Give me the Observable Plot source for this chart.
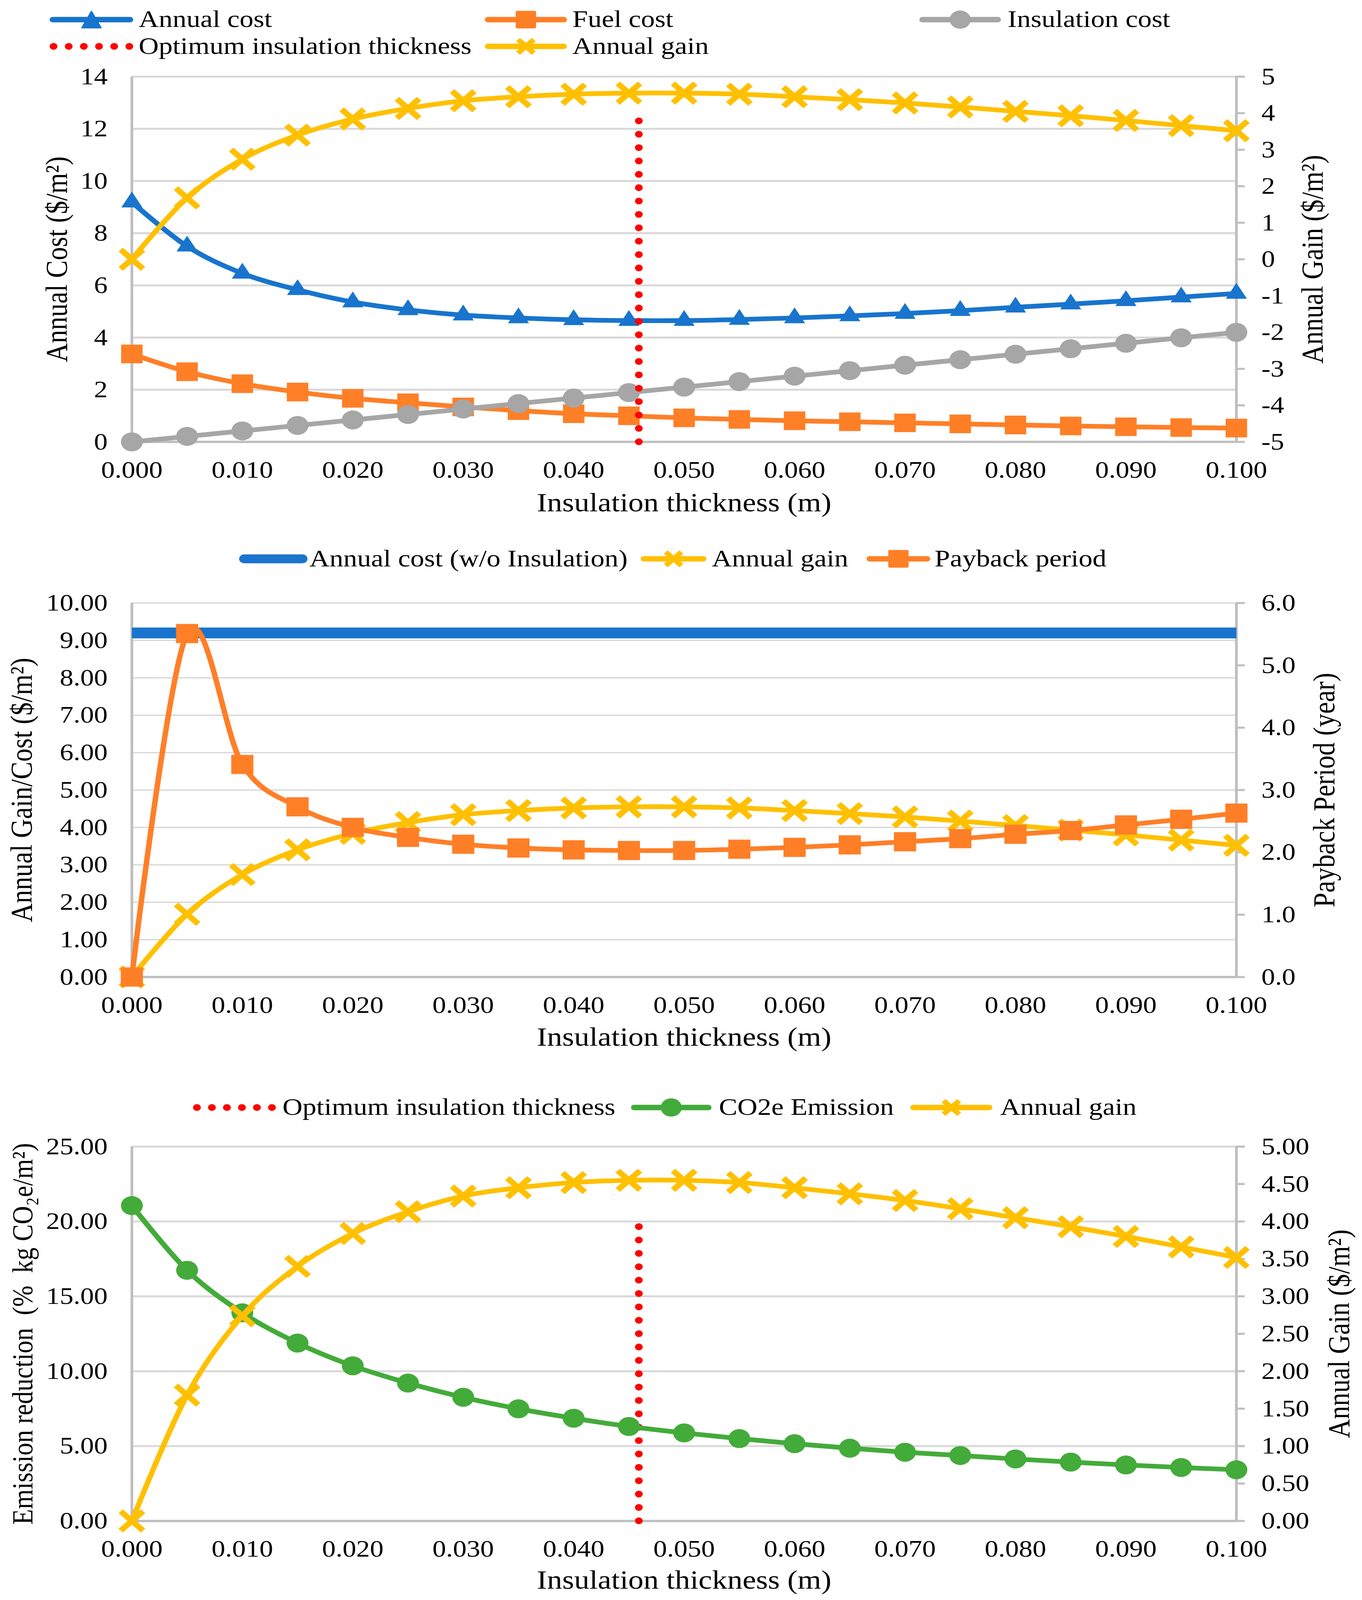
<!DOCTYPE html>
<html><head><meta charset="utf-8">
<script src="https://cdn.jsdelivr.net/npm/d3@7"></script>
<script src="https://cdn.jsdelivr.net/npm/@observablehq/plot@0.6"></script>
<style>
html,body{margin:0;padding:0;background:#fff;overflow:hidden;}
#wrap{position:relative;overflow:hidden;background:#fff;}
#page{position:absolute;left:0;top:0;width:3486px;height:4727px;background:#fff;font-family:'Liberation Serif','Times New Roman',serif;overflow:hidden;transform-origin:0 0;}
.panel{position:absolute;left:0;}
.lg{position:absolute;white-space:nowrap;font-size:71px;line-height:100px;height:100px;color:#000;}
.sw{position:absolute;overflow:visible;}
</style></head><body><div id="wrap"><div id="page"></div></div>
<script>
// ---------- data ----------
const thickness = [0.000, 0.005, 0.010, 0.015, 0.020, 0.025, 0.030, 0.035, 0.040, 0.045, 0.050, 0.055, 0.060, 0.065, 0.070, 0.075, 0.080, 0.085, 0.090, 0.095, 0.100];
const annualCost = [9.19, 7.50, 6.46, 5.83, 5.36, 5.06, 4.86, 4.75, 4.68, 4.65, 4.65, 4.69, 4.75, 4.83, 4.92, 5.03, 5.16, 5.28, 5.41, 5.55, 5.69];
const fuelCost = [3.37, 2.69, 2.23, 1.91, 1.67, 1.50, 1.34, 1.20, 1.08, 1.00, 0.92, 0.86, 0.81, 0.77, 0.73, 0.69, 0.65, 0.61, 0.58, 0.55, 0.53];
const insulationCost = [0.00, 0.21, 0.42, 0.63, 0.84, 1.05, 1.26, 1.47, 1.68, 1.89, 2.10, 2.31, 2.52, 2.73, 2.94, 3.15, 3.36, 3.57, 3.78, 3.99, 4.20];
const annualGain = [0.00, 1.68, 2.74, 3.40, 3.84, 4.13, 4.34, 4.45, 4.52, 4.55, 4.55, 4.52, 4.45, 4.37, 4.28, 4.17, 4.05, 3.93, 3.80, 3.66, 3.52];
const costNoInsulation = [9.2, 9.2, 9.2, 9.2, 9.2, 9.2, 9.2, 9.2, 9.2, 9.2, 9.2, 9.2, 9.2, 9.2, 9.2, 9.2, 9.2, 9.2, 9.2, 9.2, 9.2];
const paybackPeriod = [0.00, 5.51, 3.41, 2.73, 2.40, 2.24, 2.13, 2.07, 2.04, 2.03, 2.03, 2.05, 2.08, 2.12, 2.17, 2.22, 2.29, 2.35, 2.44, 2.53, 2.63];
const co2Reduction = [21.06, 16.74, 13.90, 11.88, 10.36, 9.21, 8.26, 7.49, 6.86, 6.31, 5.88, 5.50, 5.16, 4.86, 4.59, 4.37, 4.14, 3.93, 3.74, 3.57, 3.42];
const optimumThickness = [0.0459];
const optimumTopCost = 12.8;      // left-axis value where the dotted line ends (panel 1)
const optimumTopEmission = 20.5;  // left-axis value where the dotted line ends (panel 3)

// ---------- ticks ----------
const xTicks = [0.00, 0.01, 0.02, 0.03, 0.04, 0.05, 0.06, 0.07, 0.08, 0.09, 0.10];
const costTicks = [0, 2, 4, 6, 8, 10, 12, 14];
const gainTicksA = [-5, -4, -3, -2, -1, 0, 1, 2, 3, 4, 5];
const gainCostTicks = [0, 1, 2, 3, 4, 5, 6, 7, 8, 9, 10];
const paybackTicks = [0, 1, 2, 3, 4, 5, 6];
const emissionTicks = [0, 5, 10, 15, 20, 25];
const gainTicksC = [0, 0.5, 1, 1.5, 2, 2.5, 3, 3.5, 4, 4.5, 5];

// ---------- style ----------
const BLUE = "#1874CD", ORANGE = "#FF7F27", GREY = "#A6A6A6", YELLOW = "#FFC000", GREEN = "#43AB3A", RED = "#FF0000";
const FONT = "'Liberation Serif','Times New Roman',serif";
const TICK_FS = 70, TITLE_FS = 78;
const rows = thickness.map((t, i) => ({
  t, cost: annualCost[i], fuel: fuelCost[i], ins: insulationCost[i], gain: annualGain[i],
  base: costNoInsulation[i], pay: paybackPeriod[i], co2: co2Reduction[i]
}));
const page = document.getElementById("page");

// fit the 3486x4727 design into the actual viewport
(function fit() {
  const W = 3486, H = 4727;
  const vw = window.innerWidth || W, vh = window.innerHeight || H;
  const sx = Math.min(1, vw / W), sy = Math.min(1, vh / H);
  const wrap = document.getElementById("wrap");
  wrap.style.width = (W * sx) + "px";
  wrap.style.height = (H * sy) + "px";
  page.style.transform = `scale(${sx}, ${sy})`;
})();

function makePanel(cfg) {
  const [y0, y1] = cfg.yDomain, [r0, r1] = cfg.rDomain;
  const toL = r => y0 + (r - r0) * (y1 - y0) / (r1 - r0);
  const tickLen = 0.1 * 22 / 2827; // 22px outward tick on the right axis, in x units
  const svg = Plot.plot({
    width: 3486, height: cfg.height,
    marginLeft: 337, marginRight: 322, marginTop: cfg.mt, marginBottom: cfg.mb,
    style: {fontFamily: FONT, fontSize: TICK_FS + "px", background: "transparent", color: "#000", overflow: "visible"},
    x: {domain: [0, 0.1], axis: null},
    y: {domain: cfg.yDomain, axis: null},
    marks: [
      Plot.gridY(cfg.yTicks, {stroke: "#d9d9d9", strokeOpacity: 1, strokeWidth: cfg.gridW}),
      Plot.ruleX([0, 0.1], {stroke: "#bfbfbf", strokeWidth: 7}),
      Plot.ruleY([y0], {stroke: "#bfbfbf", strokeWidth: 7}),
      Plot.axisX(xTicks, {tickSize: 0, tickPadding: 56, fontSize: TICK_FS, tickFormat: d3.format(".3f"), label: null}),
      Plot.axisY(cfg.yTicks, {tickSize: 0, tickPadding: 62, fontSize: TICK_FS, tickFormat: cfg.yFmt, label: null}),
      // right (secondary) axis: tick marks and labels
      Plot.ruleY(cfg.rTicks, {y: toL, x1: 0.1, x2: 0.1 + tickLen, stroke: "#bfbfbf", strokeWidth: 6}),
      Plot.text(cfg.rTicks, {x: () => 0.1, y: toL, text: cfg.rFmt, dx: 64, textAnchor: "start", fontSize: TICK_FS, fill: "#000"}),
      Plot.text([cfg.xTitle], {frameAnchor: "bottom", dy: cfg.xTitleDy, fontSize: TITLE_FS, text: d => d, fill: "#000"}),
      Plot.text([cfg.yTitle], {frameAnchor: "left", textAnchor: "middle", dx: -(337 - cfg.yTitleX), rotate: -90, fontSize: cfg.yTitleFs || TITLE_FS, text: d => d, fill: "#000"}),
      Plot.text([cfg.rTitle], {frameAnchor: "right", textAnchor: "middle", dx: cfg.rTitleX - 3164, rotate: -90, fontSize: TITLE_FS, text: d => d, fill: "#000"}),
      ...cfg.marks(toL)
    ]
  });
  svg.classList.add("panel");
  svg.style.top = cfg.top + "px";
  svg.style.position = "absolute";
  page.appendChild(svg);
}

const lineOpts = {x: "t", strokeWidth: 14, curve: "cardinal", tension: 0};

// Panel 1
makePanel({
  top: 170, height: 1390, mt: 56, mb: 255, gridW: 6,
  yDomain: [0, 14], yTicks: costTicks, yFmt: d => String(d),
  rDomain: [-5, 5], rTicks: gainTicksA, rFmt: v => String(v),
  xTitle: "Insulation thickness (m)", xTitleDy: 205,
  yTitle: "Annual Cost ($/m²)", yTitleX: 146,
  rTitle: "Annual Gain ($/m²)", rTitleX: 3360,
  marks: toL => [
    Plot.line(rows, {...lineOpts, y: "cost", stroke: BLUE}),
    Plot.dot(rows, {x: "t", y: "cost", symbol: "triangle", r: 20, fill: BLUE}),
    Plot.line(rows, {...lineOpts, y: "fuel", stroke: ORANGE}),
    Plot.dot(rows, {x: "t", y: "fuel", symbol: "square", r: 31, fill: ORANGE}),
    Plot.line(rows, {...lineOpts, y: "ins", stroke: GREY}),
    Plot.dot(rows, {x: "t", y: "ins", symbol: "circle", r: 28, fill: GREY}),
    Plot.ruleX(optimumThickness, {x: d => d, y1: 0, y2: optimumTopCost, stroke: RED, strokeWidth: 20, strokeDasharray: "0 39.5", strokeLinecap: "round"}),
    Plot.line(rows, {...lineOpts, y: d => toL(d.gain), stroke: YELLOW}),
    Plot.dot(rows, {x: "t", y: d => toL(d.gain), symbol: "times", r: 26, stroke: YELLOW, strokeWidth: 16, fill: "none"})
  ]
});

// Panel 2
makePanel({
  top: 1720, height: 1420, mt: 61, mb: 254, gridW: 4,
  yDomain: [0, 10], yTicks: gainCostTicks, yFmt: d3.format(".2f"),
  rDomain: [0, 6], rTicks: paybackTicks, rFmt: v => v.toFixed(1),
  xTitle: "Insulation thickness (m)", xTitleDy: 203,
  yTitle: "Annual Gain/Cost ($/m²)", yTitleX: 56, yTitleFs: 78,
  rTitle: "Payback Period (year)", rTitleX: 3390,
  marks: toL => [
    Plot.line(rows, {x: "t", y: "base", stroke: BLUE, strokeWidth: 32, strokeLinecap: "butt"}),
    Plot.line(rows, {...lineOpts, y: "gain", stroke: YELLOW}),
    Plot.dot(rows, {x: "t", y: "gain", symbol: "times", r: 26, stroke: YELLOW, strokeWidth: 16, fill: "none"}),
    Plot.line(rows, {...lineOpts, y: d => toL(d.pay), stroke: ORANGE}),
    Plot.dot(rows, {x: "t", y: d => toL(d.pay), symbol: "square", r: 32, fill: ORANGE})
  ]
});

// Panel 3
makePanel({
  top: 3330, height: 1397, mt: 57, mb: 234, gridW: 6,
  yDomain: [0, 25], yTicks: emissionTicks, yFmt: d3.format(".2f"),
  rDomain: [0, 5], rTicks: gainTicksC, rFmt: v => v.toFixed(2),
  xTitle: "Insulation thickness (m)", xTitleDy: 200,
  yTitle: "Emission reduction\u00a0\u00a0(%\u00a0\u00a0kg CO₂e/m²)", yTitleX: 58, yTitleFs: 75,
  rTitle: "Annual Gain ($/m²)", rTitleX: 3428,
  marks: toL => [
    Plot.ruleX(optimumThickness, {x: d => d, y1: 0, y2: optimumTopEmission, stroke: RED, strokeWidth: 20, strokeDasharray: "0 39.5", strokeLinecap: "round"}),
    Plot.line(rows, {...lineOpts, y: "co2", stroke: GREEN}),
    Plot.dot(rows, {x: "t", y: "co2", symbol: "circle", r: 28, fill: GREEN}),
    Plot.line(rows, {...lineOpts, y: d => toL(d.gain), stroke: YELLOW}),
    Plot.dot(rows, {x: "t", y: d => toL(d.gain), symbol: "times", r: 26, stroke: YELLOW, strokeWidth: 16, fill: "none"})
  ]
});

// ---------- legends (HTML) ----------
function markerSvg(type, color, cx) {
  const cy = 50;
  if (type === "triangle") return `<polygon points="${cx},${cy-24} ${cx+24},${cy+24} ${cx-24},${cy+24}" fill="${color}" stroke="${color}" stroke-width="4" stroke-linejoin="round"/>`;
  if (type === "square") return `<rect x="${cx-26}" y="${cy-26}" width="52" height="52" rx="4" fill="${color}"/>`;
  if (type === "circle") return `<circle cx="${cx}" cy="${cy}" r="27" fill="${color}"/>`;
  if (type === "times") return `<path d="M${cx-20},${cy-20}L${cx+20},${cy+20}M${cx-20},${cy+20}L${cx+20},${cy-20}" stroke="${color}" stroke-width="14" fill="none"/>`;
  return "";
}
function legendItem({x1, x2, cy, color, marker, lw = 16, dots = false, textX, label}) {
  const w = x2 - x1;
  let inner;
  if (dots) {
    inner = "";
    const n = 6, step = (w - 20) / (n - 1);
    for (let i = 0; i < n; i++) inner += `<circle cx="${10 + i * step}" cy="50" r="10" fill="${color}"/>`;
  } else {
    inner = `<line x1="${lw/2}" x2="${w - lw/2}" y1="50" y2="50" stroke="${color}" stroke-width="${lw}" stroke-linecap="round"/>` + markerSvg(marker, color, w / 2);
  }
  const sw = document.createElement("div");
  sw.innerHTML = `<svg class="sw" style="left:${x1}px;top:${cy-50}px" width="${w}" height="100">${inner}</svg>`;
  page.appendChild(sw.firstChild);
  const t = document.createElement("div");
  t.className = "lg";
  t.style.left = textX + "px";
  t.style.top = (cy - 52) + "px";
  t.textContent = label;
  page.appendChild(t);
}
// Panel 1 legend
legendItem({x1: 127, x2: 341, cy: 58, color: BLUE, marker: "triangle", textX: 355, label: "Annual cost"});
legendItem({x1: 1241, x2: 1451, cy: 58, color: ORANGE, marker: "square", textX: 1465, label: "Fuel cost"});
legendItem({x1: 2353, x2: 2562, cy: 58, color: GREY, marker: "circle", textX: 2579, label: "Insulation cost"});
legendItem({x1: 127, x2: 341, cy: 137, color: RED, dots: true, textX: 355, label: "Optimum insulation thickness"});
legendItem({x1: 1241, x2: 1451, cy: 137, color: YELLOW, marker: "times", textX: 1465, label: "Annual gain"});
// Panel 2 legend
legendItem({x1: 612, x2: 787, cy: 1651, color: BLUE, lw: 26, marker: null, textX: 792, label: "Annual cost (w/o Insulation)"});
legendItem({x1: 1640, x2: 1808, cy: 1651, color: YELLOW, marker: "times", textX: 1822, label: "Annual gain"});
legendItem({x1: 2218, x2: 2381, cy: 1651, color: ORANGE, marker: "square", textX: 2392, label: "Payback period"});
// Panel 3 legend
legendItem({x1: 494, x2: 706, cy: 3272, color: RED, dots: true, textX: 723, label: "Optimum insulation thickness"});
legendItem({x1: 1615, x2: 1821, cy: 3272, color: GREEN, marker: "circle", textX: 1840, label: "CO2e Emission"});
legendItem({x1: 2330, x2: 2540, cy: 3272, color: YELLOW, marker: "times", textX: 2560, label: "Annual gain"});
</script>
</body></html>
